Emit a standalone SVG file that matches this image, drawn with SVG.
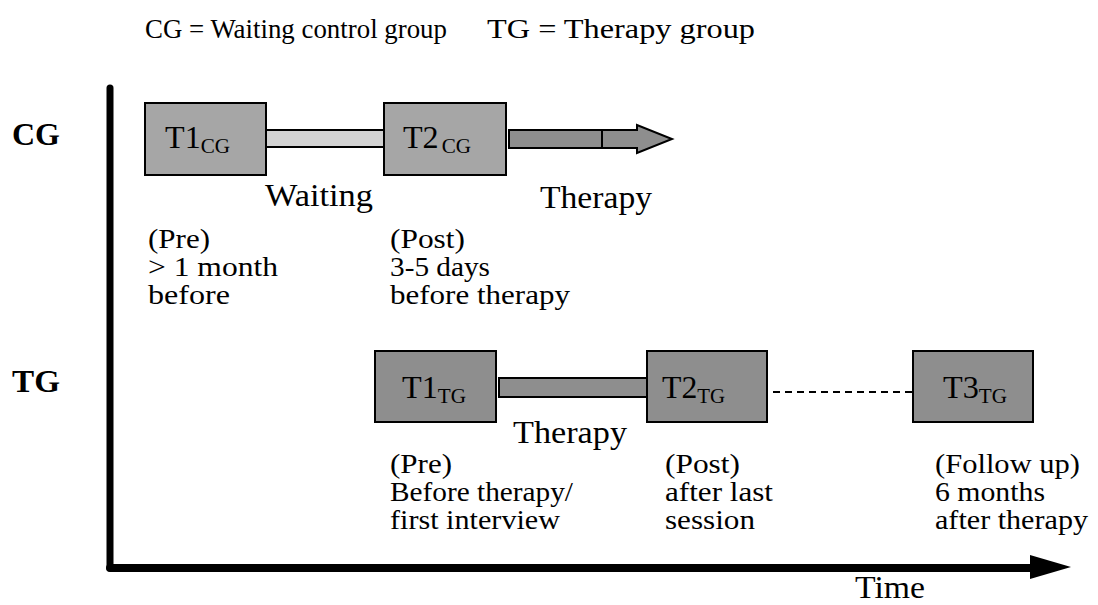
<svg xmlns="http://www.w3.org/2000/svg" width="1098" height="605" viewBox="0 0 1098 605">
<style>
.t{font-size:28px}
.lbl{font-size:32px}
.sub{font-size:21px}
.grp{font-size:31px;font-weight:bold}
.box{stroke:#000;stroke-width:2}
.cg{fill:#a6a6a6}
.tg{fill:#8e8e8e}
</style>
<rect width="1098" height="605" fill="#fff"/>
<g font-family="Liberation Serif, serif" fill="#000">
<text class="t" x="145" y="38" textLength="302" lengthAdjust="spacingAndGlyphs">CG = Waiting control group</text>
<text class="t" x="487" y="38" textLength="268" lengthAdjust="spacingAndGlyphs">TG = Therapy group</text>
<text class="grp" x="12" y="145" textLength="48" lengthAdjust="spacingAndGlyphs">CG</text>
<text class="grp" x="12" y="392" textLength="48" lengthAdjust="spacingAndGlyphs">TG</text>
</g>
<g id="connectors">
<rect x="266" y="130" width="119" height="17" fill="#d3d3d3" class="box"/>
<rect x="509" y="130" width="93" height="18" class="box tg"/>
<polygon points="602,130 637,130 637,125 672,139 637,153 637,148 602,148" class="box tg"/>
<rect x="499" y="378" width="148" height="19" class="box tg"/>
<line x1="773" y1="392" x2="912" y2="392" stroke="#000" stroke-width="2" stroke-dasharray="7 5"/>
<line x1="110" y1="88" x2="110" y2="568" stroke="#000" stroke-width="7" stroke-linecap="round"/>
<line x1="110" y1="568" x2="1034" y2="568" stroke="#000" stroke-width="8" stroke-linecap="round"/>
<polygon points="1030,555 1071,567 1030,579" fill="#000"/>
</g>
<g font-family="Liberation Serif, serif" fill="#000">
<g id="T1CG">
<rect x="145" y="103" width="121" height="72" class="box cg"/>
<text class="lbl" x="165" y="148" textLength="65" lengthAdjust="spacingAndGlyphs">T1<tspan class="sub" dy="5">CG</tspan></text>
</g>
<g id="T2CG">
<rect x="384" y="103" width="122" height="72" class="box cg"/>
<text class="lbl" x="403" y="148" textLength="68" lengthAdjust="spacingAndGlyphs">T2<tspan class="sub" dx="3" dy="5">CG</tspan></text>
</g>
<g id="T1TG">
<rect x="375" y="351" width="121" height="71" class="box tg"/>
<text class="lbl" x="402" y="398" textLength="64" lengthAdjust="spacingAndGlyphs">T1<tspan class="sub" dy="5">TG</tspan></text>
</g>
<g id="T2TG">
<rect x="647" y="351" width="120" height="71" class="box tg"/>
<text class="lbl" x="662" y="398" textLength="63" lengthAdjust="spacingAndGlyphs">T2<tspan class="sub" dy="5">TG</tspan></text>
</g>
<g id="T3TG">
<rect x="913" y="351" width="120" height="71" class="box tg"/>
<text class="lbl" x="943" y="398" textLength="64" lengthAdjust="spacingAndGlyphs">T3<tspan class="sub" dy="5">TG</tspan></text>
</g>
<g id="labels">
<text class="lbl" x="265" y="206" textLength="108" lengthAdjust="spacingAndGlyphs">Waiting</text>
<text class="lbl" x="540" y="208" textLength="112" lengthAdjust="spacingAndGlyphs">Therapy</text>
<text class="lbl" x="513" y="443" textLength="114" lengthAdjust="spacingAndGlyphs">Therapy</text>
<text class="t" x="148" y="248" textLength="62" lengthAdjust="spacingAndGlyphs">(Pre)</text>
<text class="t" x="148" y="276" textLength="130" lengthAdjust="spacingAndGlyphs">&gt; 1 month</text>
<text class="t" x="148" y="304" textLength="82" lengthAdjust="spacingAndGlyphs">before</text>
<text class="t" x="390" y="248" textLength="75" lengthAdjust="spacingAndGlyphs">(Post)</text>
<text class="t" x="390" y="276" textLength="100" lengthAdjust="spacingAndGlyphs">3-5 days</text>
<text class="t" x="390" y="304" textLength="180" lengthAdjust="spacingAndGlyphs">before therapy</text>
<text class="t" x="390" y="473" textLength="62" lengthAdjust="spacingAndGlyphs">(Pre)</text>
<text class="t" x="390" y="501" textLength="183" lengthAdjust="spacingAndGlyphs">Before therapy/</text>
<text class="t" x="390" y="529" textLength="170" lengthAdjust="spacingAndGlyphs">first interview</text>
<text class="t" x="665" y="473" textLength="75" lengthAdjust="spacingAndGlyphs">(Post)</text>
<text class="t" x="665" y="501" textLength="108" lengthAdjust="spacingAndGlyphs">after last</text>
<text class="t" x="665" y="529" textLength="90" lengthAdjust="spacingAndGlyphs">session</text>
<text class="t" x="935" y="473" textLength="145" lengthAdjust="spacingAndGlyphs">(Follow up)</text>
<text class="t" x="935" y="501" textLength="110" lengthAdjust="spacingAndGlyphs">6 months</text>
<text class="t" x="935" y="529" textLength="153" lengthAdjust="spacingAndGlyphs">after therapy</text>
<text class="lbl" x="855" y="598" textLength="70" lengthAdjust="spacingAndGlyphs">Time</text>
</g>
</g>
</svg>
